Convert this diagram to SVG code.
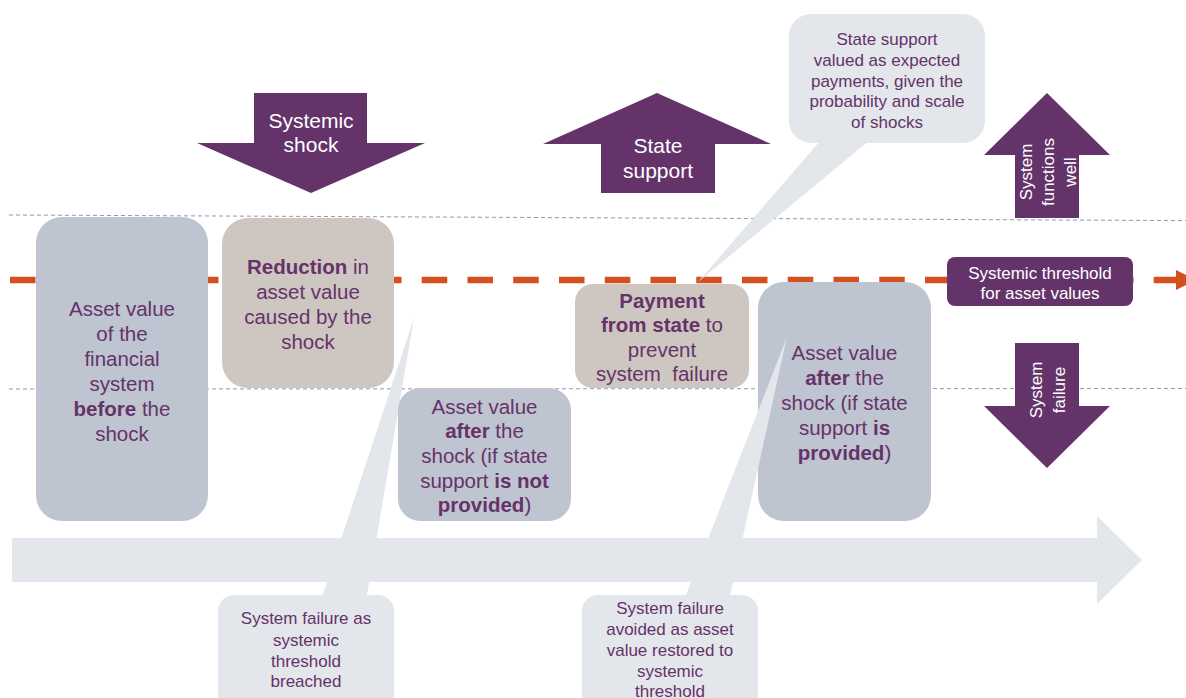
<svg xmlns="http://www.w3.org/2000/svg" width="1186" height="698" viewBox="0 0 1186 698">
  <style>
    text { font-family: "Liberation Sans", Arial, sans-serif; text-anchor: middle; }
    .box-text { font-size: 20.5px; fill: #653369; }
    .small-text { font-size: 17px; fill: #653369; }
    .white-big { font-size: 21px; fill: #ffffff; }
    .white-small { font-size: 17px; fill: #ffffff; }
    .b { font-weight: bold; }
    .purple { fill: #64336A; }
    .blue-box { fill: #BEC4D0; }
    .taupe-box { fill: #CEC6C1; }
    .pale { fill: #E3E6EB; }
    .band { stroke: #8E9BB0; stroke-width: 1; stroke-dasharray: 4 3; fill: none; }
  </style>

  <rect width="1186" height="698" fill="#ffffff"/>

  <!-- guide lines and the systemic threshold -->
  <g id="connectors">
    <line class="band" x1="9" y1="215" x2="1186" y2="220.6"/>
    <line class="band" x1="9" y1="389" x2="1186" y2="388.5"/>
    <line x1="10" y1="280" x2="1177" y2="280" stroke="#D4501E" stroke-width="6.5" stroke-dasharray="25.5 20.25"/>
    <polygon points="1176,270 1196,280 1176,290" fill="#D4501E"/>
  </g>

  <!-- timeline -->
  <g id="timeline">
    <polygon class="pale" points="12,538 1097,538 1097,516 1142,560 1097,604 1097,582 12,582"/>
  </g>

  <!-- callout: system failure -->
  <g id="callout-failure">
    <polygon class="pale" points="414,318 366,600 321,600"/>
    <rect class="pale" x="218" y="595" width="176" height="120" rx="16"/>
    <text class="small-text" x="306" y="624">System failure as</text>
    <text class="small-text" x="306" y="645.5">systemic</text>
    <text class="small-text" x="306" y="666.5">threshold</text>
    <text class="small-text" x="306" y="687">breached</text>
  </g>

  <!-- callout: expected value of state support -->
  <g id="callout-valuation">
    <polygon class="pale" points="821,140 870,140 698,282"/>
    <rect class="pale" x="789" y="14" width="196" height="129" rx="22"/>
    <text class="small-text" x="887" y="44.5">State support</text>
    <text class="small-text" x="887" y="65.5">valued as expected</text>
    <text class="small-text" x="887" y="86.5">payments, given the</text>
    <text class="small-text" x="887" y="107">probability and scale</text>
    <text class="small-text" x="887" y="128">of shocks</text>
  </g>

  <!-- big block arrows -->
  <g id="arrow-shock">
    <polygon class="purple" points="254,93 367,93 367,143 425,143 311,193 197,143 254,143"/>
    <text class="white-big" x="311" y="127.5">Systemic</text>
    <text class="white-big" x="311" y="152">shock</text>
  </g>

  <g id="arrow-support">
    <polygon class="purple" points="657,93 771,144 715,144 715,193 601,193 601,144 543,144"/>
    <text class="white-big" x="658" y="153">State</text>
    <text class="white-big" x="658" y="177.5">support</text>
  </g>

  <g id="arrow-functions">
    <polygon class="purple" points="1047,93 1110,155 1079,155 1079,218 1015,218 1015,155 984,155"/>
    <g transform="translate(1047,172) rotate(-90)">
      <text class="white-small" x="0" y="-15">System</text>
      <text class="white-small" x="0" y="7">functions</text>
      <text class="white-small" x="0" y="28.5">well</text>
    </g>
  </g>

  <g id="arrow-failure">
    <polygon class="purple" points="1015,343 1079,343 1079,406 1110,406 1047,468 984,406 1015,406"/>
    <g transform="translate(1047,390) rotate(-90)">
      <text class="white-small" x="0" y="-5">System</text>
      <text class="white-small" x="0" y="18">failure</text>
    </g>
  </g>

  <!-- threshold label -->
  <g id="threshold-label">
    <rect class="purple" x="947" y="257" width="186" height="49" rx="8"/>
    <text class="white-small" x="1040" y="278.5">Systemic threshold</text>
    <text class="white-small" x="1040" y="298.5">for asset values</text>
  </g>

  <!-- asset value boxes -->
  <g id="box-before">
    <rect class="blue-box" x="36" y="217" width="172" height="304" rx="26"/>
    <text class="box-text" x="122" y="316">Asset value</text>
    <text class="box-text" x="122" y="341">of the</text>
    <text class="box-text" x="122" y="365.5">financial</text>
    <text class="box-text" x="122" y="390.5">system</text>
    <text class="box-text" x="122" y="415.5"><tspan class="b">before</tspan> the</text>
    <text class="box-text" x="122" y="440.5">shock</text>
  </g>

  <g id="box-reduction">
    <rect class="taupe-box" x="222" y="218" width="172" height="170" rx="26"/>
    <text class="box-text" x="308" y="274"><tspan class="b">Reduction</tspan> in</text>
    <text class="box-text" x="308" y="299">asset value</text>
    <text class="box-text" x="308" y="324">caused by the</text>
    <text class="box-text" x="308" y="349">shock</text>
  </g>

  <g id="box-after-no-support">
    <rect class="blue-box" x="398" y="388" width="173" height="133" rx="22"/>
    <text class="box-text" x="484.5" y="413.5">Asset value</text>
    <text class="box-text" x="484.5" y="438"><tspan class="b">after</tspan> the</text>
    <text class="box-text" x="484.5" y="463">shock (if state</text>
    <text class="box-text" x="484.5" y="487.5">support <tspan class="b">is not</tspan></text>
    <text class="box-text" x="484.5" y="512"><tspan class="b">provided</tspan>)</text>
  </g>

  <g id="box-payment">
    <rect class="taupe-box" x="575" y="284" width="174" height="104" rx="18"/>
    <text class="box-text" x="662" y="308" font-weight="bold">Payment</text>
    <text class="box-text" x="662" y="332"><tspan class="b">from state</tspan> to</text>
    <text class="box-text" x="662" y="356.5">prevent</text>
    <text class="box-text" x="662" y="381">system&#160; failure</text>
  </g>

  <g id="box-after-support">
    <rect class="blue-box" x="758" y="282" width="173" height="239" rx="26"/>
    <text class="box-text" x="844.5" y="359.5">Asset value</text>
    <text class="box-text" x="844.5" y="384.5"><tspan class="b">after</tspan> the</text>
    <text class="box-text" x="844.5" y="409.5">shock (if state</text>
    <text class="box-text" x="844.5" y="434.5">support <tspan class="b">is</tspan></text>
    <text class="box-text" x="844.5" y="459.5"><tspan class="b">provided</tspan>)</text>
  </g>

  <!-- callout: failure avoided -->
  <g id="callout-avoided">
    <polygon class="pale" points="787,337 729,600 684,600"/>
    <rect class="pale" x="582" y="595" width="176" height="120" rx="16"/>
    <text class="small-text" x="670" y="613.5">System failure</text>
    <text class="small-text" x="670" y="634.5">avoided as asset</text>
    <text class="small-text" x="670" y="655.5">value restored to</text>
    <text class="small-text" x="670" y="676.5">systemic</text>
    <text class="small-text" x="670" y="697">threshold</text>
  </g>
</svg>
